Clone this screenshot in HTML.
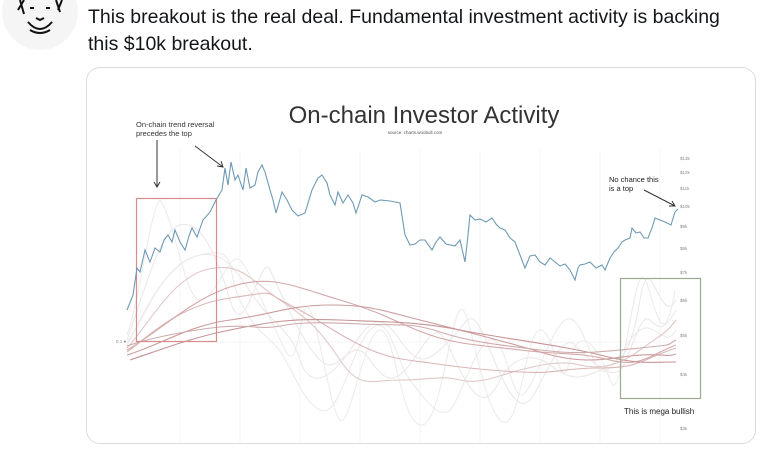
<!DOCTYPE html>
<html><head><meta charset="utf-8"><style>
body{margin:0;width:768px;height:464px;overflow:hidden;background:#fff;font-family:"Liberation Sans",sans-serif;position:relative}
.t{position:absolute;left:88px;font-size:19.5px;color:#14171a;line-height:26px}
.card{position:absolute;left:86px;top:67px;width:670px;height:377px;border:1px solid #d8dde0;border-radius:14px;box-sizing:border-box}
svg{position:absolute;left:0;top:0}
</style></head><body>
<div class="t" style="top:4px">This breakout is the real deal. Fundamental investment activity is backing</div>
<div class="t" style="top:31px">this $10k breakout.</div>
<div class="card"></div>
<svg width="768" height="464" viewBox="0 0 768 464" font-family="Liberation Sans, sans-serif">
<circle cx="40" cy="12" r="38" fill="#f5f5f5"/>
<g stroke="#111" stroke-width="2" fill="none">
<path d="M20,0 l4,14 M24,0 l-6,10 M56,0 l4,12 M62,0 l-4,10 M28,22 q12,14 24,0 M30,30 q10,6 20,0 M36,18 l4,2 l4,-2"/>
<path d="M30,8 l4,0 M46,8 l4,0"/>
</g>
<g stroke="#f6f6f6" stroke-width="1">
<line x1="180" y1="150" x2="180" y2="443"/><line x1="240" y1="150" x2="240" y2="443"/><line x1="300" y1="150" x2="300" y2="443"/><line x1="360" y1="150" x2="360" y2="443"/><line x1="420" y1="150" x2="420" y2="443"/><line x1="480" y1="150" x2="480" y2="443"/><line x1="540" y1="150" x2="540" y2="443"/><line x1="600" y1="150" x2="600" y2="443"/><line x1="660" y1="150" x2="660" y2="443"/>
<line x1="125" y1="342" x2="680" y2="342"/>
</g>
<text x="424" y="123" font-size="24" text-anchor="middle" fill="#333" font-weight="300">On-chain Investor Activity</text>
<text x="415" y="134" font-size="4.5" text-anchor="middle" fill="#555">source: charts.woobull.com</text>
<text x="136" y="127" font-size="7.5" fill="#333">On-chain trend reversal</text>
<text x="136" y="136" font-size="7.5" fill="#333">precedes the top</text>
<text x="609" y="182" font-size="7.5" fill="#222">No chance this</text>
<text x="609" y="191" font-size="7.5" fill="#222">is a top</text>
<text x="624" y="414" font-size="8" fill="#222">This is mega bullish</text>
<g stroke="#333" stroke-width="1" fill="none">
<path d="M157,140 L157,186 M154,182 L157,187 L160,182"/>
<path d="M195,146 L223,167 M217,166 L223,167 L221,161"/>
<path d="M644,190 L675,206 M669,206 L675,206 L672,201"/>
</g>
<g fill="#888" font-size="4.5">
<text x="680" y="160">$13k</text><text x="680" y="174">$12k</text><text x="680" y="190">$11k</text><text x="680" y="208">$10k</text><text x="680" y="228">$9k</text><text x="680" y="250">$8k</text><text x="680" y="274">$7k</text><text x="680" y="302">$6k</text><text x="680" y="337">$5k</text><text x="680" y="376">$4k</text><text x="680" y="430">$3k</text>
<text x="116" y="343">0.1 ●</text>
</g>
<g fill="none" stroke-width="1.1">
<path stroke="#ececec" d="M127,335 C140,300 150,210 160,200 C175,220 185,300 200,300 S230,250 240,260 S270,320 285,350 S300,290 310,310 S330,410 340,420 S365,330 380,330 S400,420 420,425 S450,320 460,310 S480,400 500,420 S525,330 540,330 S560,400 570,360 S600,350 610,380 S630,300 640,280 S660,380 675,290"/>
<path stroke="#ece8e8" d="M127,340 C145,290 160,230 180,225 S215,250 230,300 S260,250 270,270 S300,340 320,360 S350,330 370,360 S400,380 420,350 S440,330 460,370 S490,400 500,380 S530,350 550,365 S580,380 600,370 S630,360 640,300 S660,330 676,300"/>
<path stroke="#eee8e8" d="M127,345 C150,300 170,260 200,255 S240,280 260,305 S290,330 300,360 S330,380 350,350 S380,310 400,340 S430,360 450,340 S470,300 490,350 S520,410 530,400 S560,330 575,345 S610,380 620,370 S640,310 650,320 S665,330 676,310"/>
<path stroke="#f0eaea" d="M127,342 C145,320 160,265 200,255 S225,270 240,300 S260,330 275,345 S300,400 320,410 S350,350 370,330 S395,360 410,380 S440,420 450,410 S475,345 490,340 S510,390 520,395 S550,330 565,320 S590,360 600,370 S625,340 640,330 S665,350 676,330"/>
<path stroke="#e0c8c8" d="M127,348 C145,330 170,280 205,270 S250,280 280,300 S320,330 340,360 S370,380 400,380 S440,375 460,380 S500,375 520,370 S560,360 580,365 S620,365 640,350 S665,335 676,320"/>
<path stroke="#dcb6b6" d="M127,352 C150,335 180,305 230,298 S260,290 290,305 S330,330 360,345 S410,360 430,363 S480,370 520,372 S560,368 600,368 S640,360 676,348"/>
<path stroke="#d4a8a8" d="M127,350 C155,335 190,300 230,287 S290,285 340,300 S400,325 430,335 S480,345 520,350 S580,352 610,360 S650,355 676,345"/>
<path stroke="#cc9c9c" d="M127,355 C160,345 190,325 230,320 S290,305 330,305 S380,310 420,320 S500,340 540,352 S600,360 630,356 S665,358 676,354"/>
<path stroke="#c69494" d="M130,360 C160,350 190,338 230,330 S290,318 340,320 S420,322 460,330 S560,345 600,355 S650,362 676,362"/>
<path stroke="#cfacac" d="M127,346 C150,338 190,330 220,327 S260,330 280,326 S320,322 360,324 S410,322 440,332 S500,345 540,350 S600,352 640,348 S665,345 676,340"/>
</g>
<rect x="136.5" y="198.5" width="80" height="143" fill="none" stroke="#d98a8a" stroke-width="1.2"/>
<rect x="620.5" y="278.5" width="80" height="120" fill="none" stroke="#9aab94" stroke-width="1.2"/>
<polyline fill="none" stroke="#6e9ab5" stroke-width="1.1" points="127,310 133,295 137,268 140,272 145,250 150,262 155,248 160,252 164,240 168,235 172,242 175,230 180,242 185,250 189,236 192,228 197,237 203,220 210,212 216,200 222,190 225,168 228,185 231,162 235,180 238,175 243,190 246,168 250,188 255,185 258,172 262,165 265,172 270,190 273,200 276,213 282,192 287,200 292,210 298,216 305,213 312,190 318,178 322,175 327,183 330,195 335,205 338,192 343,203 348,195 353,203 356,213 362,195 368,197 375,202 380,200 390,201 400,203 405,235 410,245 415,244 420,240 425,240 432,250 436,242 440,237 446,244 455,246 460,240 465,262 468,235 470,215 475,220 480,219 486,222 492,218 496,224 500,228 505,230 510,238 515,242 520,255 525,268 530,256 535,255 540,262 545,265 550,258 555,262 560,266 565,264 570,270 575,280 578,268 580,265 585,264 590,262 596,268 602,265 605,270 610,258 614,252 618,248 622,242 625,240 630,238 632,228 636,233 640,232 644,238 648,238 652,228 655,218 660,220 665,222 671,225 675,212 678,209"/>
</svg>
</body></html>
